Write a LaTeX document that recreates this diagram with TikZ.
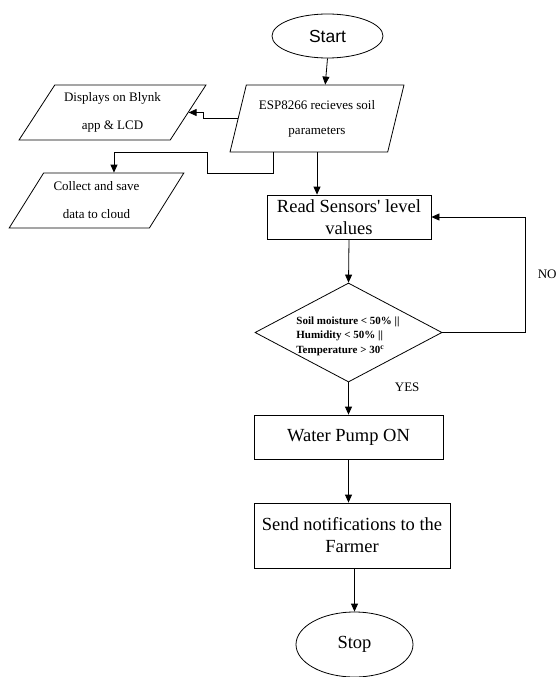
\documentclass[tikz,border=0pt]{standalone}
\usepackage{fontspec}
\setmainfont{Liberation Serif}
\newfontfamily\startfont{Liberation Sans}
\usetikzlibrary{arrows.meta, positioning, shapes.geometric}
\tikzset{
  tbox/.style={draw, ellipse, line width=0.8pt, inner sep=0pt,
    font=\fontsize{18.5}{22}\selectfont},
  pbox/.style={draw, line width=0.8pt, align=center, inner sep=0pt,
    font=\fontsize{18.5}{22}\selectfont},
  iobox/.style={draw, trapezium, trapezium stretches=true, line width=0.8pt,
    align=center, inner sep=0pt, font=\fontsize{13}{28}\selectfont,
    trapezium left angle=53, trapezium right angle=127},
  dbox/.style={draw, diamond, line width=0.8pt, inner sep=0pt},
  lbl/.style={font=\fontsize{13}{15}\selectfont, inner sep=0pt},
  flow/.style={-{Triangle[length=8pt, width=7pt]}, line width=0.8pt},
}

\begin{document}
\begin{tikzpicture}[x=1pt, y=-1pt]
    \useasboundingbox (0,0) rectangle (557,677);
    \node[tbox, minimum width=111pt, minimum height=44pt,
      font=\startfont\fontsize{17.5}{20}\selectfont] (start) at (327.5,36) {Start};
    \node[iobox, minimum width=174pt, minimum height=67pt, font=\fontsize{13}{25}\selectfont,
      trapezium left angle=70, trapezium right angle=110] (esp) at (317,118.5) {ESP8266 recieves soil\\parameters};
    \node[iobox, minimum width=187pt, minimum height=55pt] (disp) at (112.5,112.5) {Displays on Blynk\\app \& LCD};
    \node[iobox, minimum width=175pt, minimum height=55pt] (coll) at (96.5,200.5) {Collect and save\\data to cloud};
    \node[pbox, minimum width=164pt, minimum height=44pt] (read) at (349,217) {Read Sensors\textquotesingle{} level\\values};
    \node[dbox, minimum width=187pt, minimum height=99pt] (dec) at (348.5,332.5) {};
    \node[font=\bfseries\fontsize{11}{14.5}\selectfont, align=left, inner sep=0pt] (dectxt) at (348,336)
      {Soil moisture < 50\% ||\\Humidity < 50\% ||\\Temperature > 30\textsuperscript{c}};
    \node[pbox, minimum width=189pt, minimum height=44pt] (pump) at (348.5,437) {Water Pump ON};
    \node[pbox, minimum width=196pt, minimum height=65pt] (notify) at (352,535.5) {Send notifications to the\\Farmer};
    \node[tbox, minimum width=117pt, minimum height=65pt] (stop) at (354.5,644.5) {Stop};
    % connectors
    \draw[flow] (start.south) -- (esp.top side);
    \draw[flow] (esp.west) -- ++(-34,0) |- (disp.east);
    \draw[flow] ([xshift=-44pt]esp.south) -- ++(0,21) -- ++(-66,0) -- ++(0,-21) -| (coll.top side);
    \draw[flow] (esp.south) -- (esp.south |- read.north);
    \draw[flow] (read.south) -- (dec.north);
    \draw[flow] (dec.east) -- ++(83,0) |- node[lbl, pos=0.25, right=12pt] {NO} (read.east);
    \draw[flow] (dec.south) -- node[lbl, pos=0.15, right=46pt] {YES} (dec.south |- pump.north);
    \draw[flow] (pump.south) -- (pump.south |- notify.north);
    \draw[flow] (stop.north |- notify.south) -- (stop.north);
\end{tikzpicture}
\end{document}
